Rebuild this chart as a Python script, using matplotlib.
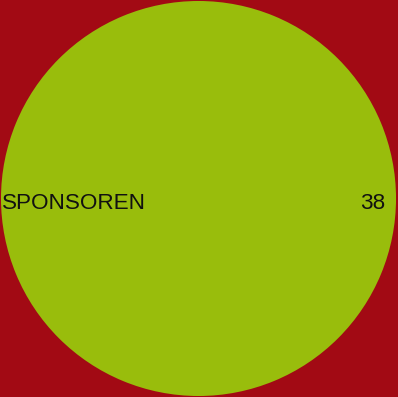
import matplotlib

matplotlib.use("Agg")
import matplotlib.pyplot as plt

# ---- data ----
categories = ["SPONSOREN"]
values = [38]

RED = "#a20a14"
GREEN = "#99bd0c"

plt.rcParams["font.family"] = ["Liberation Sans", "DejaVu Sans"]

fig = plt.figure(figsize=(3.98, 3.97), dpi=100, facecolor=RED)
ax = fig.add_axes([0, 0, 1, 1])
ax.set_facecolor(RED)

ax.pie(values, colors=[GREEN], radius=1.0, startangle=90,
       wedgeprops={"linewidth": 0})

# label + value on the horizontal line through the middle
ax.text(-0.997, -0.052, categories[0], ha="left", va="baseline",
        fontsize=16.2, color="#111111")
ax.text(0.944, -0.052, str(values[0]), ha="right", va="baseline",
        fontsize=16.2, color="#111111")

ax.set_xlim(-1.005, 1.010)
ax.set_ylim(-1.005, 1.005)
ax.set_aspect("auto")
ax.axis("off")

fig.savefig("out.png", dpi=100, facecolor=RED)
plt.close(fig)
